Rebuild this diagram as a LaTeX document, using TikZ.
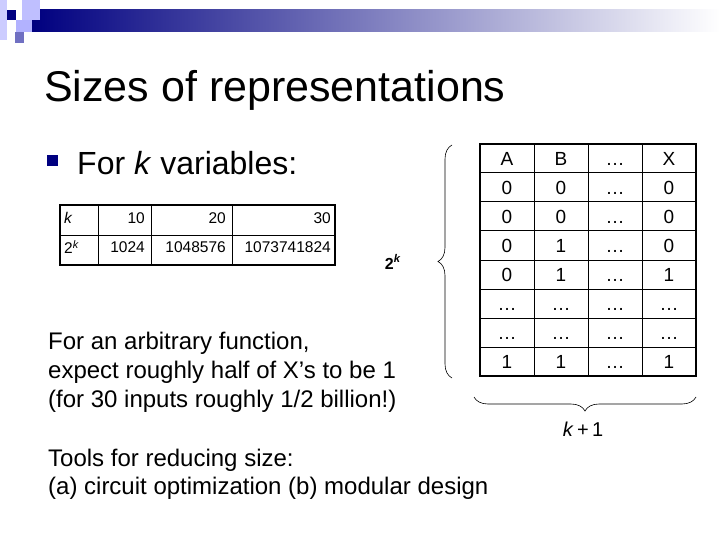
\documentclass[tikz,border=0pt]{standalone}
\usepackage{fontspec}
\setmainfont{Liberation Sans}
\usetikzlibrary{decorations.pathreplacing}
\begin{document}
\begin{tikzpicture}[x=1pt,y=-1pt,
  txt/.style={anchor=west,inner sep=0pt,font=\fontsize{24}{28}\selectfont},
  cell/.style={inner sep=0pt,text height=13.5pt,text depth=0pt,font=\fontsize{19}{22}\selectfont},
  lcell/.style={inner sep=0pt,font=\fontsize{15.5}{18}\selectfont},
  grid/.style={line width=1pt},
  frame/.style={line width=2.2pt},
  brace/.style={decorate,decoration={brace,amplitude=14pt},line width=0.6pt}]
\useasboundingbox (0,0) rectangle (720,540);
% header
\shade[left color=blue!50!black, right color=white] (32,10) rectangle (720,32);
\fill[blue!20!white] (0,0) rectangle (7,40);
\fill[blue!25!white] (22,0) rectangle (40,20);
\fill[blue!30!white] (16,20) rectangle (32,32);
\fill[blue!40!gray!80] (15,32) rectangle (24,43);
\fill[blue!50!black] (7,10) rectangle (16,20);
% title
\node[anchor=west,inner sep=0pt,font=\fontsize{43}{48}\selectfont] (title) at (44,90) {Sizes of representations};
\fill[blue!50!black] (47,155) rectangle (58,166);
\node[anchor=west,inner sep=0pt,font=\fontsize{32}{36}\selectfont] (fork) at (77,163) {For \textit{k} variables:};
% left table
\draw[grid] (60,235) -- (335,235) (98,205) -- (98,265) (151,205) -- (151,265) (232,205) -- (232,265);
\draw[frame] (60,205) rectangle (335,265);
\node[lcell,anchor=west] (lk) at (64,218) {\textit{k}};
\node[lcell,anchor=east] (l10) at (145,218) {10};
\node[lcell,anchor=east] (l20) at (226,218) {20};
\node[lcell,anchor=east] (l30) at (331,218) {30};
\node[lcell,anchor=west] (l2k) at (64,247) {2\textsuperscript{\textit{k}}};
\node[lcell,anchor=east] (la) at (145,247) {1024};
\node[lcell,anchor=east] (lb) at (226,247) {1048576};
\node[lcell,anchor=east] (lc) at (331,247) {1073741824};
% texts
\node[txt] (t1) at (48,343) {For an arbitrary function,};
\node[txt] (t2) at (48,372) {expect roughly half of X’s to be 1};
\node[txt] (t3) at (48,401) {(for 30 inputs roughly 1/2 billion!)};
\node[txt] (t4) at (48,460) {Tools for reducing size:};
\node[txt] (t5) at (48,488) {(a) circuit optimization (b) modular design};
% right table
\foreach \y in {173,202,231,260,289,318,347} \draw[grid] (480,\y) -- (696,\y);
\foreach \x in {534,588,642} \draw[grid] (\x,144) -- (\x,376);
\draw[frame] (480,144) rectangle (696,376);
\foreach \r/\ra/\rb/\rc/\rd in {0/A/B/…/X,1/0/0/…/0,2/0/0/…/0,3/0/1/…/0,4/0/1/…/1,5/…/…/…/…,6/…/…/…/…,7/1/1/…/1}{
  \node[cell] (c\r a) at (507,158.5+29*\r) {\ra};
  \node[cell] (c\r b) at (561,158.5+29*\r) {\rb};
  \node[cell] (c\r c) at (615,158.5+29*\r) {\rc};
  \node[cell] (c\r d) at (669,158.5+29*\r) {\rd};
}
% braces
\draw[brace] (452,378) -- (452,145);
\node[inner sep=0pt,font=\fontsize{16}{18}\selectfont\bfseries] (twok) at (393,262) {2\textsuperscript{\textit{k}}};
\draw[brace] (696,397) -- (474,397);
\node[inner sep=0pt,font=\fontsize{20}{22}\selectfont] (kp1) at (583,429) {\textit{k}\,+\,1};
\end{tikzpicture}
\end{document}
